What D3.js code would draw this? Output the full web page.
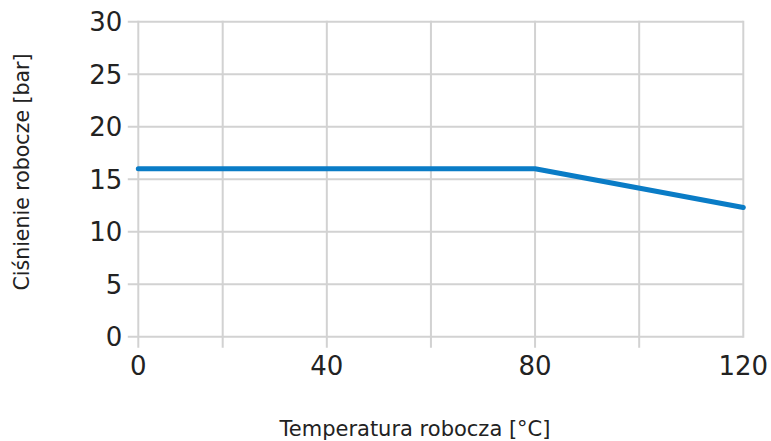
<!DOCTYPE html>
<html><head><meta charset="utf-8">
<script src="https://cdn.jsdelivr.net/npm/d3@7"></script>
<style>
html,body{margin:0;padding:0;background:#fff;}
text{font-family:"DejaVu Sans",sans-serif;fill:#222;}
</style></head>
<body><svg id="c" width="771" height="441"></svg>
<script>
const temperatures = [0, 80, 120];
const pressures = [16, 16, 12.3];
const xGridValues = [0, 20, 40, 60, 80, 100, 120];
const xTickLabels = [0, 40, 80, 120];
const yTickValues = [0, 5, 10, 15, 20, 25, 30];
const xTitle = "Temperatura robocza [°C]";
const yTitle = "Ciśnienie robocze [bar]";

const svg = d3.select("#c");
// piecewise scale: first interval is drawn narrower in the original
const x = d3.scaleLinear().domain([0, 20, 120]).range([138.3, 222.7, 743.3]);
const y = d3.scaleLinear().domain([0, 30]).range([336.7, 21.7]);
const grid = "#d2d2d2";

const g = svg.append("g");
g.selectAll("line.h").data(yTickValues).join("line")
  .attr("x1", x(0) - 10.5).attr("x2", x(120))
  .attr("y1", d => y(d)).attr("y2", d => y(d))
  .attr("stroke", grid).attr("stroke-width", 2);
g.selectAll("line.v").data(xGridValues).join("line")
  .attr("x1", d => x(d)).attr("x2", d => x(d))
  .attr("y1", y(30) - 1).attr("y2", d => d === 120 ? y(0) + 1 : y(0) + 11)
  .attr("stroke", grid).attr("stroke-width", 2);

svg.selectAll("text.yl").data(yTickValues).join("text")
  .attr("x", x(0) - 16).attr("y", d => y(d)).attr("dy", "0.36em")
  .attr("text-anchor", "end").attr("font-size", 26).text(d => d);
svg.selectAll("text.xl").data(xTickLabels).join("text")
  .attr("x", d => x(d)).attr("y", 375)
  .attr("text-anchor", "middle").attr("font-size", 26).text(d => d);

const pts = temperatures.map((t, i) => [t, pressures[i]]);
svg.append("path").datum(pts)
  .attr("d", d3.line().x(d => x(d[0])).y(d => y(d[1])))
  .attr("fill", "none").attr("stroke", "#0a7cc6").attr("stroke-width", 5)
  .attr("stroke-linecap", "round").attr("stroke-linejoin", "round");

svg.append("text").attr("x", 415).attr("y", 436)
  .attr("text-anchor", "middle").attr("font-size", 21).text(xTitle);
svg.append("text").attr("transform", "translate(29,172) rotate(-90)")
  .attr("text-anchor", "middle").attr("font-size", 20.5).text(yTitle);
</script></body></html>
